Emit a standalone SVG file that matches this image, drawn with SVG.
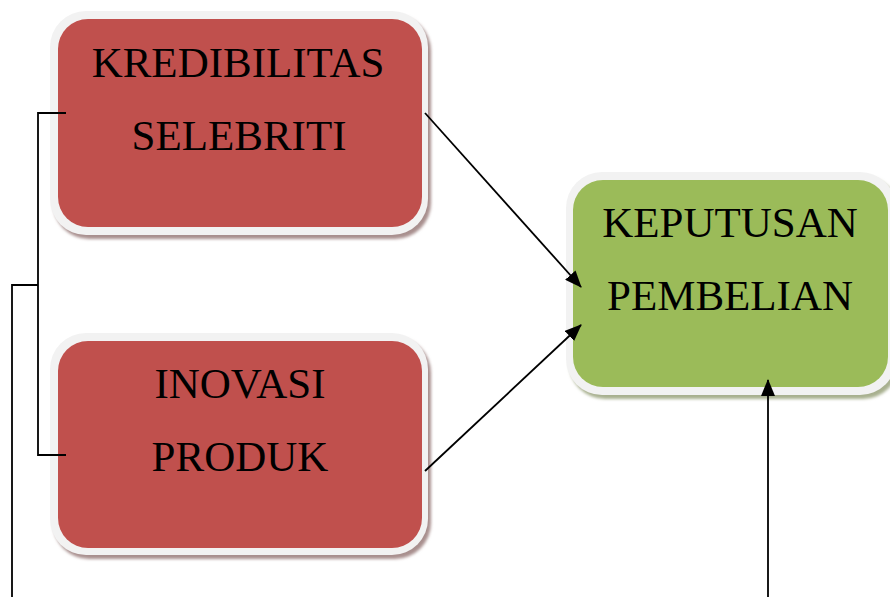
<svg xmlns="http://www.w3.org/2000/svg" width="890" height="597" viewBox="0 0 890 597">
  <defs>
    <marker id="arr" markerWidth="17" markerHeight="14" refX="16" refY="7" orient="auto" markerUnits="userSpaceOnUse">
      <path d="M0,0 L17,7 L0,14 Z" fill="#000"/>
    </marker>
    <filter id="blur" x="-10%" y="-10%" width="120%" height="120%">
      <feGaussianBlur stdDeviation="1.5"/>
    </filter>
  </defs>
  <style>
    .frame { fill: #f2f2f2; }
    .red { fill: #c0504d; }
    .green { fill: #9bbb59; }
    .shr { fill: #a88f8e; filter: url(#blur); }
    .shg { fill: #a8b08f; filter: url(#blur); }
    .lbl { font-family: "Liberation Serif", "Times New Roman", serif; font-size: 43px; fill: #000; text-anchor: middle; }
    .conn { stroke: #000; stroke-width: 1.8; fill: none; }
  </style>
  <rect width="890" height="597" fill="#fff"/>

  <g id="kredibilitas">
    <rect class="shr" x="53" y="15" width="378" height="224" rx="36"/>
    <rect class="frame" x="50" y="11" width="378" height="224" rx="36"/>
    <rect class="red" x="58" y="19" width="364" height="208" rx="30"/>
    <text class="lbl" x="238" y="77">KREDIBILITAS</text>
    <text class="lbl" x="239" y="150">SELEBRITI</text>
  </g>

  <g id="inovasi">
    <rect class="shr" x="53" y="337" width="378" height="222" rx="36"/>
    <rect class="frame" x="50" y="333" width="378" height="222" rx="36"/>
    <rect class="red" x="58" y="341" width="364" height="207" rx="30"/>
    <text class="lbl" x="240" y="398">INOVASI</text>
    <text class="lbl" x="240" y="471">PRODUK</text>
  </g>

  <g id="keputusan">
    <rect class="shg" x="569" y="176" width="330" height="223" rx="36"/>
    <rect class="frame" x="566" y="172" width="330" height="223" rx="36"/>
    <rect class="green" x="573" y="180" width="315" height="207" rx="30"/>
    <text class="lbl" x="730" y="237">KEPUTUSAN</text>
    <text class="lbl" x="730" y="310">PEMBELIAN</text>
  </g>

  <g id="connectors">
    <line class="conn" x1="425" y1="113" x2="581" y2="287" marker-end="url(#arr)"/>
    <line class="conn" x1="425" y1="471" x2="581" y2="325" marker-end="url(#arr)"/>
    <line class="conn" x1="768" y1="597" x2="768" y2="380" marker-end="url(#arr)"/>
    <polyline class="conn" points="66,113 38,113 38,455 66,455"/>
    <polyline class="conn" points="38,285 12,285 12,597"/>
  </g>
</svg>
